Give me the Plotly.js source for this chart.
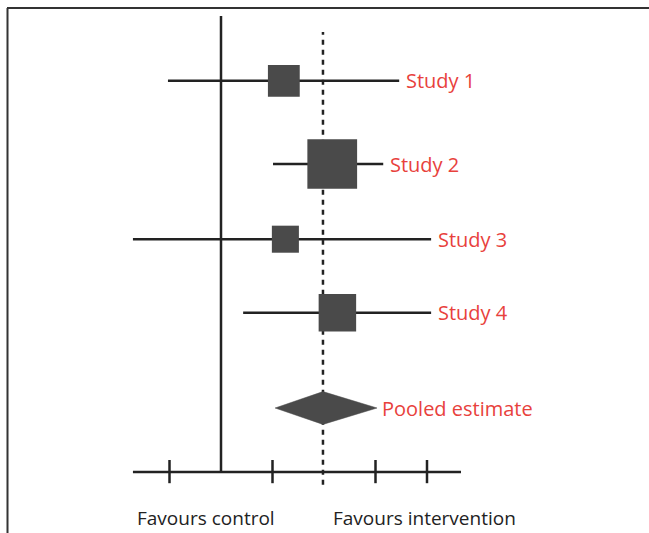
<!DOCTYPE html>
<html>
<head>
<meta charset="utf-8">
<script src="https://cdn.plot.ly/plotly-3.0.1.min.js"></script>
<style>html,body{margin:0;padding:0;background:#fff;}#chart{width:649px;height:533px;}</style>
</head>
<body>
<div id="chart"></div>
<script>
// ---- data ----
const studies   = ['Study 1', 'Study 2', 'Study 3', 'Study 4'];
const estimates = [1.22, 2.16, 1.25, 2.26];
const ciLow     = [-1.03, 1.01, -1.71, 0.43];
const ciHigh    = [3.46, 3.15, 4.08, 4.08];
const weights   = [18, 44, 13, 25];          // % weight (box area)
const rows      = [4.89, 3.85, 2.91, 1.99];  // vertical position of each study
const pooledLabel = 'Pooled estimate';
const pooled    = {est: 1.98, low: 1.05, high: 3.03};
const pooledRow = 0.8;
const tickVals  = [-1, 1, 3, 4];
const nullValue = 0;
const sideLabels = ['Favours control', 'Favours intervention'];

// ---- style ----
const lineCol = '#222222', boxCol = '#4a4a4a', red = '#e8413c';
const FONT = 'Open Sans, Noto Sans, sans-serif';

// CI whiskers
const wx = [], wy = [];
studies.forEach((s, i) => { wx.push(ciLow[i], ciHigh[i], null); wy.push(rows[i], rows[i], null); });

const traces = [
  {x: wx, y: wy, mode: 'lines', line: {color: lineCol, width: 2.5}, hoverinfo: 'skip', showlegend: false},
  {x: estimates, y: rows, mode: 'markers', text: studies,
   marker: {symbol: 'square', size: weights.map(w => 7.5 * Math.sqrt(w)), color: boxCol, opacity: 1, line: {width: 0}},
   showlegend: false},
  {x: [pooled.low, pooled.est, pooled.high, pooled.est, pooled.low],
   y: [pooledRow, pooledRow + 0.205, pooledRow, pooledRow - 0.205, pooledRow],
   mode: 'lines', fill: 'toself', fillcolor: boxCol, line: {color: boxCol, width: 0.5}, showlegend: false}
];

const axisLo = -1.71, axisHi = 4.66;
const shapes = [
  // frame
  {type: 'line', xref: 'paper', yref: 'paper', x0: 7/649, x1: 1, y0: 1 - 8/533, y1: 1 - 8/533, line: {color: '#333', width: 2}},
  {type: 'line', xref: 'paper', yref: 'paper', x0: 7.5/649, x1: 7.5/649, y0: 0, y1: 1 - 8/533, line: {color: '#333', width: 2}},
  // pooled estimate dashed line
  {type: 'line', x0: pooled.est, x1: pooled.est, y0: -0.16, y1: 5.5, layer: 'below', line: {color: lineCol, width: 2.5, dash: '5px,5px'}},
  // null line
  {type: 'line', x0: nullValue, x1: nullValue, y0: 0, y1: 5.7, layer: 'below', line: {color: lineCol, width: 2.5}},
  // axis line
  {type: 'line', x0: axisLo, x1: axisHi, y0: 0, y1: 0, line: {color: lineCol, width: 2.5}}
];
tickVals.forEach(t => shapes.push({type: 'line', x0: t, x1: t, y0: 0.15, y1: -0.14, line: {color: lineCol, width: 2.5}}));

const annotations = studies.map((s, i) => ({
  x: ciHigh[i], y: rows[i], text: s, showarrow: false, xanchor: 'left', yanchor: 'middle', xshift: 5,
  font: {family: FONT, size: 20, color: red}
}));
annotations.push({x: pooled.high, y: pooledRow, text: pooledLabel, showarrow: false, xanchor: 'left', yanchor: 'middle', xshift: 3,
  font: {family: FONT, size: 20, color: red}});
annotations.push({x: -0.29, y: -0.575, text: sideLabels[0], showarrow: false, xanchor: 'center', yanchor: 'middle',
  font: {family: FONT, size: 19, color: '#222'}});
annotations.push({x: 3.95, y: -0.575, text: sideLabels[1], showarrow: false, xanchor: 'center', yanchor: 'middle',
  font: {family: FONT, size: 19, color: '#222'}});

const layout = {
  width: 649, height: 533,
  margin: {l: 0, r: 0, t: 0, b: 0},
  paper_bgcolor: '#fff', plot_bgcolor: '#fff',
  xaxis: {range: [-221/51.5, 428/51.5], visible: false, fixedrange: true},
  yaxis: {range: [-0.7625, 5.9], visible: false, fixedrange: true},
  shapes: shapes, annotations: annotations, showlegend: false
};
Plotly.newPlot('chart', traces, layout, {displayModeBar: false, staticPlot: true});
</script>
</body>
</html>
